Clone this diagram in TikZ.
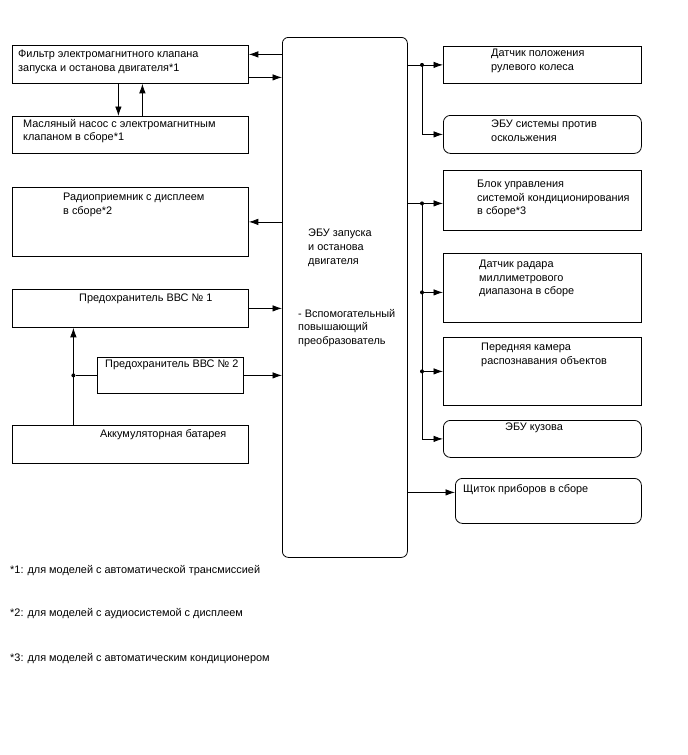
\documentclass[tikz,border=0pt]{standalone}
\usepackage{fontspec}
\setmainfont{Liberation Sans}
\usetikzlibrary{positioning, arrows.meta, calc}

\begin{document}
\begin{tikzpicture}[
    x=1pt, y=-1pt,
    every node/.style={font=\fontsize{10.9}{13.6}\selectfont},
    box/.style={draw, line width=0.8pt, anchor=north west, inner sep=0pt},
    rbox/.style={box, rounded corners=7pt},
    txt/.style={anchor=north west, inner sep=0pt, align=left},
    wire/.style={line width=0.8pt},
    dot/.style={circle, fill, inner sep=0pt, minimum size=4pt},
    >={Latex[length=9.5pt,width=6.5pt]},
  ]
  \useasboundingbox[fill=white] (0,0) rectangle (688,755);

  % left column
  \node[box, minimum width=236pt, minimum height=38pt] (flt) at (12,45) {};
  \node[box, minimum width=236pt, minimum height=37pt] (pump) at (12,116) {};
  \node[box, minimum width=236pt, minimum height=69pt] (radio) at (12,187) {};
  \node[box, minimum width=236pt, minimum height=38pt] (fuse1) at (12,289) {};
  \node[box, minimum width=146pt, minimum height=36pt] (fuse2) at (97,357) {};
  \node[box, minimum width=236pt, minimum height=38pt] (batt) at (12,425) {};

  \node[txt] (fltT) at (18,50) {Фильтр электромагнитного клапана\\запуска и останова двигателя*1};
  \node[txt] (pumpT) at (23,119) {Масляный насос с электромагнитным\\клапаном в сборе*1};
  \node[txt] (radioT) at (63,193) {Радиоприемник с дисплеем\\в сборе*2};
  \node[txt] (fuse1T) at (79,294) {Предохранитель ВВС № 1};
  \node[txt] (fuse2T) at (105,360) {Предохранитель ВВС № 2};
  \node[txt] (battT) at (100,429) {Аккумуляторная батарея};

  % engine stop and start ECU
  \node[box, rounded corners=6pt, minimum width=125pt, minimum height=520pt] (ecu) at (282,37) {};
  \node[txt] (ecuT) at (308,229) {ЭБУ запуска\\и останова\\двигателя};
  \node[txt] (dcdcT) at (298,309) {- Вспомогательный\\повышающий\\преобразователь};

  % right column
  \node[box, minimum width=198pt, minimum height=37pt] (steer) at (443,46) {};
  \node[rbox, minimum width=198pt, minimum height=38pt] (vsc) at (443,115) {};
  \node[box, minimum width=198pt, minimum height=60pt] (ac) at (443,170) {};
  \node[box, minimum width=198pt, minimum height=69pt] (radar) at (443,253) {};
  \node[box, minimum width=198pt, minimum height=68pt] (cam) at (443,337) {};
  \node[rbox, minimum width=198pt, minimum height=37pt] (body) at (443,420) {};
  \node[rbox, minimum width=186pt, minimum height=45pt] (meter) at (455,478) {};

  \node[txt] (steerT) at (491,49) {Датчик положения\\рулевого колеса};
  \node[txt] (vscT) at (491,120) {ЭБУ системы против\\оскольжения};
  \node[txt] (acT) at (477,180) {Блок управления\\системой кондиционирования\\в сборе*3};
  \node[txt] (radarT) at (479,260) {Датчик радара\\миллиметрового\\диапазона в сборе};
  \node[txt] (camT) at (481,343) {Передняя камера\\распознавания объектов};
  \node[txt] (bodyT) at (505,423) {ЭБУ кузова};
  \node[txt] (meterT) at (463,484) {Щиток приборов в сборе};

  % footnotes
  \node[txt] (note1) at (10,565) {*1: для моделей с автоматической трансмиссией};
  \node[txt] (note2) at (10,608) {*2: для моделей с аудиосистемой с дисплеем};
  \node[txt] (note3) at (10,653) {*3: для моделей с автоматическим кондиционером};

  % left connectors
  \draw[wire, <-] ([yshift=10pt]flt.east) coordinate (f1) -- (ecu.west |- f1);
  \draw[wire, ->] ([yshift=-13pt]flt.east) coordinate (f2) -- (ecu.west |- f2);
  \draw[wire, ->] ([xshift=-12pt]flt.south) -- ([xshift=-12pt]pump.north);
  \draw[wire, ->] ([xshift=12pt]pump.north) -- ([xshift=12pt]flt.south);
  \draw[wire, <-] (radio.east) -- (ecu.west |- radio.east);
  \draw[wire, ->] (fuse1.east) -- (ecu.west |- fuse1.east);
  \draw[wire, ->] (fuse2.east) -- (ecu.west |- fuse2.east);
  \draw[wire, ->] ([xshift=-57pt]batt.north) -- ([xshift=-57pt]fuse1.south);
  \node[dot] (jb) at ([xshift=-57pt]batt.north |- fuse2.west) {};
  \draw[wire] (jb) -- (fuse2.west);

  % right connectors
  \coordinate (j1) at ([xshift=-21pt]steer.west);
  \draw[wire] (ecu.east |- j1) -- (j1);
  \draw[wire, ->] (j1) -- (steer.west);
  \draw[wire, ->] (j1) |- (vsc.west);
  \node[dot] at (j1) {};

  \coordinate (j2) at ([xshift=-21pt, yshift=-3pt]ac.west);
  \draw[wire] (ecu.east |- j2) -- (j2);
  \draw[wire, ->] (j2) -- (j2 -| ac.west);
  \draw[wire, ->] (j2) |- (body.west);
  \node[dot] at (j2) {};
  \foreach \dst/\dy in {radar/-4.5, cam/0} {
    \node[dot] (j\dst) at ([yshift=\dy pt]j2 |- \dst.west) {};
    \draw[wire, ->] (j\dst) -- (j\dst -| \dst.west);
  }
  \draw[wire, ->] ([yshift=8.5pt]meter.west) coordinate (m1) (ecu.east |- m1) -- (m1);
\end{tikzpicture}
\end{document}
